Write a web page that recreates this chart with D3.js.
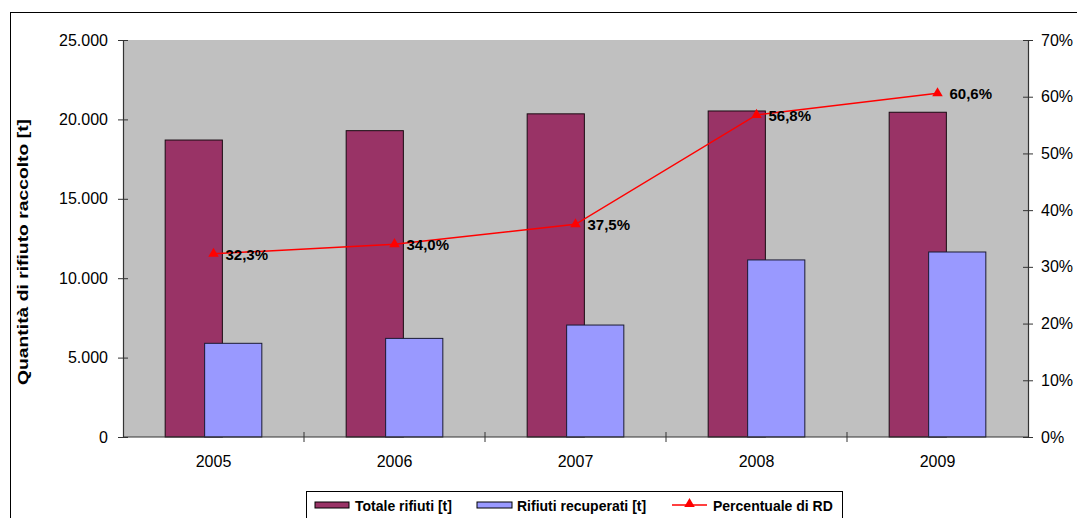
<!DOCTYPE html>
<html>
<head>
<meta charset="utf-8">
<script src="https://cdn.jsdelivr.net/npm/d3@7"></script>
<style>
  body { margin: 0; background: #fff; }
  svg { display: block; font-family: Arial, "Liberation Sans", sans-serif; }
</style>
</head>
<body>
<div id="chart"></div>
<script>
const years = ['2005', '2006', '2007', '2008', '2009'];
const totale = [18700, 19290, 20350, 20530, 20450];
const recuperati = [5900, 6210, 7050, 11150, 11650];
const percentuale = [32.3, 34.0, 37.5, 56.8, 60.6];
const leftTicks = [0, 5000, 10000, 15000, 20000, 25000];
const rightTicks = [0, 10, 20, 30, 40, 50, 60, 70];
const legendLabels = ['Totale rifiuti [t]', 'Rifiuti recuperati [t]', 'Percentuale di RD'];

const W = 1077, H = 518;
const plotL = 123, plotR = 1028, plotT = 40, plotB = 437;
const axisColor = '#333';

const it = d3.formatLocale({decimal: ',', thousands: '.', grouping: [3], currency: ['€', '']});
const fmtThousands = it.format(',');
const fmtPct = it.format('.1f');

var svg = d3.select('#chart').append('svg')
  .attr('width', W)
  .attr('height', H);

// outer chart border
svg.append('rect')
  .attr('x', 10.5).attr('y', 12.5)
  .attr('width', W).attr('height', H)
  .attr('fill', 'none').attr('stroke', '#000');

var xScale = d3.scaleBand().domain(years).range([plotL, plotR]);
var yScale = d3.scaleLinear().domain([0, 25000]).range([plotB, plotT]);
var pScale = d3.scaleLinear().domain([0, 70]).range([plotB, plotT]);

// plot area
svg.append('rect')
  .attr('x', plotL).attr('y', plotT)
  .attr('width', plotR - plotL).attr('height', plotB - plotT)
  .attr('fill', '#C0C0C0');

// bars
const bw = xScale.bandwidth();
const barW = bw * 0.316;
const overlap = barW * 0.31;
const groupW = 2 * barW - overlap;
function groupStart(i) { return xScale(years[i]) + bw / 2 - groupW / 2; }

svg.append('g').selectAll('rect')
  .data(totale)
  .join('rect')
  .attr('x', (d, i) => groupStart(i))
  .attr('y', d => yScale(d))
  .attr('width', barW)
  .attr('height', d => plotB - yScale(d))
  .attr('fill', '#993366')
  .attr('stroke', '#1a0a12')
  .attr('stroke-width', 1);

svg.append('g').selectAll('rect')
  .data(recuperati)
  .join('rect')
  .attr('x', (d, i) => groupStart(i) + barW - overlap)
  .attr('y', d => yScale(d))
  .attr('width', barW)
  .attr('height', d => plotB - yScale(d))
  .attr('fill', '#9999FF')
  .attr('stroke', '#1a1a33')
  .attr('stroke-width', 1);

// left axis
var gLeft = svg.append('g')
  .attr('transform', `translate(${plotL},0)`)
  .call(d3.axisLeft(yScale).tickValues(leftTicks).tickSize(5).tickPadding(10)
        .tickFormat(d => fmtThousands(d)));
gLeft.selectAll('.tick line').attr('x1', 5);

// right axis
var gRight = svg.append('g')
  .attr('transform', `translate(${plotR},0)`)
  .call(d3.axisRight(pScale).tickValues(rightTicks).tickSize(5).tickPadding(8)
        .tickFormat(d => d + '%'));
gRight.selectAll('.tick line').attr('x1', -5);

// bottom axis (labels at centres, ticks at category boundaries)
var gBottom = svg.append('g')
  .attr('transform', `translate(0,${plotB})`)
  .call(d3.axisBottom(xScale).tickSize(0).tickPadding(18.6));
gBottom.select('.domain').attr('d', `M${plotL},0H${plotR}`);
gBottom.selectAll('.boundary')
  .data(years.slice(1))
  .join('line')
  .attr('class', 'boundary')
  .attr('x1', d => xScale(d)).attr('x2', d => xScale(d))
  .attr('y1', -5).attr('y2', 5)
  .attr('stroke', axisColor);

[gLeft, gRight, gBottom].forEach(g => {
  g.select('.domain').attr('stroke', axisColor).attr('stroke-width', 1.2);
  g.selectAll('.tick line').attr('stroke', axisColor);
  g.selectAll('text').attr('font-size', 16).attr('fill', '#000')
    .attr('font-family', 'Arial, "Liberation Sans", sans-serif');
});

// axis title
svg.append('text')
  .attr('transform', 'translate(28,252) rotate(-90)')
  .attr('text-anchor', 'middle')
  .attr('font-size', 15)
  .attr('font-weight', 'bold')
  .attr('textLength', 266)
  .attr('lengthAdjust', 'spacingAndGlyphs')
  .text('Quantità di rifiuto raccolto [t]');

// percentage line
const cx = i => xScale(years[i]) + bw / 2;
var line = d3.line().x((d, i) => cx(i)).y(d => pScale(d));
svg.append('path')
  .datum(percentuale)
  .attr('d', line)
  .attr('fill', 'none')
  .attr('stroke', '#FF0000')
  .attr('stroke-width', 1.5);

var tri = d3.symbol().type(d3.symbolTriangle).size(48);
svg.append('g').selectAll('path')
  .data(percentuale)
  .join('path')
  .attr('transform', (d, i) => `translate(${cx(i)},${pScale(d)})`)
  .attr('d', tri)
  .attr('fill', '#FF0000');

svg.append('g').selectAll('text')
  .data(percentuale)
  .join('text')
  .attr('x', (d, i) => cx(i) + 12)
  .attr('y', d => pScale(d) + 6)
  .attr('font-size', 15)
  .attr('font-weight', 'bold')
  .text(d => fmtPct(d) + '%');

// legend
var legend = svg.append('g');
legend.append('rect')
  .attr('x', 306.5).attr('y', 491.5)
  .attr('width', 536).attr('height', 40)
  .attr('fill', '#fff').attr('stroke', '#000');

legend.append('rect')
  .attr('x', 315).attr('y', 502).attr('width', 34).attr('height', 6)
  .attr('fill', '#993366').attr('stroke', '#000');
legend.append('rect')
  .attr('x', 477).attr('y', 502).attr('width', 35).attr('height', 6)
  .attr('fill', '#9999FF').attr('stroke', '#000');
legend.append('line')
  .attr('x1', 672).attr('x2', 707).attr('y1', 505).attr('y2', 505)
  .attr('stroke', '#FF0000').attr('stroke-width', 1.5);
legend.append('path')
  .attr('transform', 'translate(689.5,504)')
  .attr('d', tri)
  .attr('fill', '#FF0000');

legend.selectAll('text.lab')
  .data(legendLabels)
  .join('text')
  .attr('class', 'lab')
  .attr('x', (d, i) => [355, 517, 713][i])
  .attr('y', 511)
  .attr('font-size', 14)
  .attr('font-weight', 'bold')
  .text(d => d);
</script>
</body>
</html>
